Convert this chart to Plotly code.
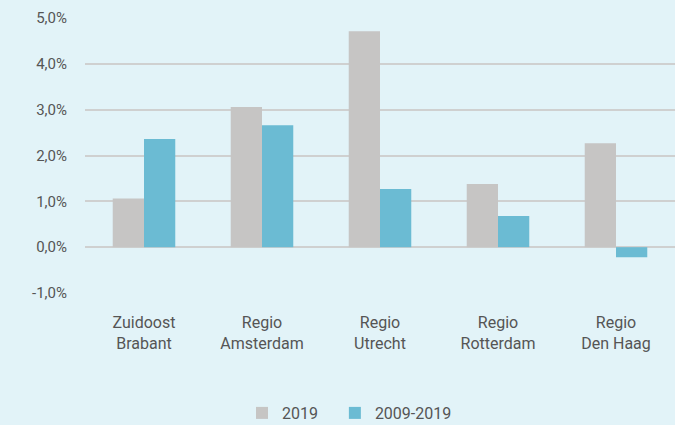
import plotly.graph_objects as go

categories = ["Zuidoost<br>Brabant", "Regio<br>Amsterdam", "Regio<br>Utrecht", "Regio<br>Rotterdam", "Regio<br>Den Haag"]
values_2019 = [1.06, 3.06, 4.71, 1.38, 2.27]
values_2009_2019 = [2.36, 2.66, 1.27, 0.68, -0.22]
tick_vals = [-1, 0, 1, 2, 3, 4, 5]
tick_text = ["-1,0%", "0,0%", "1,0%", "2,0%", "3,0%", "4,0%", "5,0%"]
series_names = ["2019\u00a0\u00a0\u00a0", "2009-2019"]

bg = "#e2f3f8"
fig = go.Figure()
fig.add_trace(go.Bar(x=categories, y=values_2019, name=series_names[0], marker_color="#c6c5c4",
                     marker_line_width=0))
fig.add_trace(go.Bar(x=categories, y=values_2009_2019, name=series_names[1], marker_color="#6bbbd3",
                     marker_line_width=0))

fig.update_layout(
    width=675, height=425,
    paper_bgcolor=bg, plot_bgcolor=bg,
    margin=dict(l=85, r=0, t=18, b=132, autoexpand=False),
    barmode="group", bargap=0.47, bargroupgap=0,
    separators=",.",
    font=dict(family="Roboto, sans-serif", size=15, color="#555555"),
    legend=dict(orientation="h", xref="container", yref="container",
                x=242 / 675, xanchor="left", y=1 - 413 / 425, yanchor="middle",
                font=dict(size=16), traceorder="normal"),
    showlegend=True,
)
fig.update_yaxes(range=[-1, 5.0], tickvals=tick_vals, ticktext=tick_text,
                 showgrid=True, gridcolor="#cfd0d0", gridwidth=2,
                 zeroline=True, zerolinecolor="#cfd0d0", zerolinewidth=2,
                 ticks="", ticklabelstandoff=17, tickfont=dict(size=15), automargin=False)
fig.update_xaxes(showgrid=False, showline=False, ticks="", tickfont=dict(size=16),
                 ticklabelstandoff=18, automargin=False)

fig.write_html("out.html", config={"displayModeBar": False},
               post_script="document.body.style.margin='0';document.body.style.background='%s';" % bg)
